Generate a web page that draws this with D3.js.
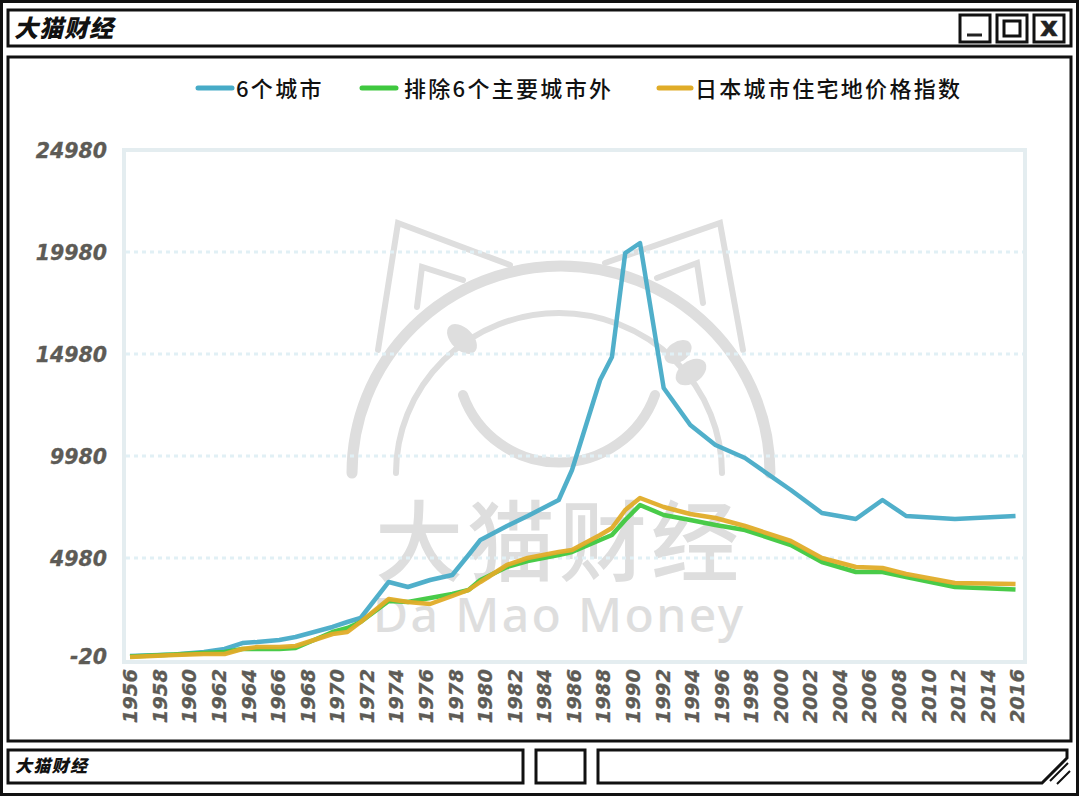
<!DOCTYPE html>
<html>
<head>
<meta charset="utf-8">
<script src="https://cdn.jsdelivr.net/npm/d3@7"></script>
<style>
html, body { margin: 0; padding: 0; background: #fff; }
svg { display: block; }
</style>
</head>
<body>
<script>
const w = 1080;
const h = 797;

// values
const years = [1956, 1959, 1961, 1962.4, 1963.6, 1964.6, 1966.1, 1967.2, 1969.7, 1970.7, 1971.6, 1973.5, 1974.8, 1976.3, 1977.8, 1978.9, 1979.7, 1981.5, 1982.9, 1985, 1985.9, 1987.8, 1988.6, 1989.5, 1990.5, 1992.1, 1993.9, 1995.6, 1997.6, 2000.7, 2002.8, 2005.1, 2006.9, 2008.5, 2011.8, 2015.9];
const sixCities = [176, 250, 372, 519, 813, 862, 960, 1107, 1598, 1843, 2039, 3804, 3558, 3902, 4147, 5127, 5862, 6549, 7039, 7823, 9294, 13706, 14833, 19931, 20421, 13313, 11500, 10519, 9882, 8313, 7186, 6892, 7823, 7039, 6892, 7039];
const otherCities = [152, 250, 323, 372, 519, 519, 519, 568, 1353, 1549, 1843, 2872, 2823, 3019, 3215, 3411, 3902, 4539, 4833, 5127, 5274, 5862, 6108, 6843, 7578, 7088, 6843, 6598, 6353, 5617, 4784, 4294, 4294, 4049, 3558, 3430];
const allIndex = [127, 225, 274, 274, 519, 617, 617, 666, 1255, 1353, 1843, 2970, 2823, 2725, 3117, 3411, 3804, 4637, 4980, 5274, 5372, 6108, 6451, 7333, 7921, 7480, 7137, 6941, 6549, 5813, 4980, 4539, 4490, 4196, 3755, 3706];
const seriesNames = ["6个城市", "排除6个主要城市外", "日本城市住宅地价格指数"];
const seriesColors = ["#47abc7", "#3fc83f", "#e0ac28"];
const yTicks = [-20, 4980, 9980, 14980, 19980, 24980];
const xTicks = d3.range(1956, 2017, 2);

const svg = d3.select("body").append("svg").attr("width", w).attr("height", h);
svg.append("rect").attr("width", w).attr("height", h).attr("fill", "#fff");

// window frame
function box(x, y, bw, bh, sw) {
	svg.append("rect").attr("x", x).attr("y", y).attr("width", bw).attr("height", bh)
		.attr("fill", "none").attr("stroke", "#111").attr("stroke-width", sw);
}
box(1.5, 1.5, 1076, 793, 3);
box(8, 10, 1063, 36, 3);
box(8, 57, 1063, 684, 3);
box(8, 750, 515, 33, 3);
box(536, 750, 49, 33, 3);
box(960, 15, 30, 27, 3);
box(997, 15, 30, 27, 3);
box(1034, 15, 30, 27, 3);
svg.append("path").attr("d", "M598 750H1067V758L1042 783H598Z").attr("fill", "none").attr("stroke", "#111").attr("stroke-width", 3);
svg.append("path").attr("d", "M1050 781L1068 763M1057 784L1070 771").attr("fill", "none").attr("stroke", "#111").attr("stroke-width", 2);
svg.append("path").attr("d", "M967 35H982").attr("stroke", "#222").attr("stroke-width", 3);
box(1004, 21, 16, 15, 3);
svg.append("text").attr("x", 1049).attr("y", 36).attr("text-anchor", "middle")
	.attr("font-family", "DejaVu Sans").attr("font-weight", "bold").attr("font-size", 27).attr("stroke", "#222").attr("stroke-width", 0.6).attr("fill", "#222").text("x");

svg.append("text").attr("x", 14).attr("y", 37)
	.attr("font-family", "Noto Sans CJK SC").attr("font-weight", "900").attr("font-style", "italic")
	.attr("font-size", 24).attr("letter-spacing", 1).attr("fill", "#111").text("大猫财经");
svg.append("text").attr("x", 15).attr("y", 772)
	.attr("font-family", "Noto Sans CJK SC").attr("font-weight", "900").attr("font-style", "italic")
	.attr("font-size", 17).attr("letter-spacing", 1.3).attr("fill", "#111").text("大猫财经");

// watermark
const wm = svg.append("g").attr("fill", "none").attr("stroke", "#dedede").attr("stroke-linecap", "round").attr("stroke-linejoin", "miter");
wm.append("path").attr("d", "M352 473A209 207 0 0 1 770 473").attr("stroke-width", 11);
wm.append("path").attr("d", "M396 473A163 160 0 0 1 722 473").attr("stroke-width", 6);
wm.append("path").attr("d", "M463 395A102 102 0 0 0 655 395").attr("stroke-width", 10);
wm.append("path").attr("d", "M378 350L398 223L510 265M605 263L720 223L743 350").attr("stroke-width", 6);
wm.append("path").attr("d", "M417 307L422 267L463 280M657 278L697 263L703 303").attr("stroke-width", 6);
[[462, 339, 18, 11, 45], [678, 352, 15, 10, -35], [691, 372, 17, 11, -35]].forEach((e) => {
	wm.append("ellipse").attr("rx", e[2]).attr("ry", e[3]).attr("fill", "#dedede").attr("stroke", "none")
		.attr("transform", "translate(" + e[0] + "," + e[1] + ") rotate(" + e[4] + ")");
});
svg.append("text").attr("x", 375).attr("y", 574).attr("font-family", "Noto Sans CJK SC").attr("font-weight", 500).attr("font-size", 88)
	.attr("letter-spacing", 4).attr("fill", "#dedede").text("大猫财经");
svg.append("text").attr("x", 373).attr("y", 632).attr("font-family", "Noto Sans").attr("font-weight", 500).attr("font-size", 48)
	.attr("textLength", 370).attr("fill", "#dedede").text("Da Mao Money");

// chart
const xScale = d3.scaleLinear().domain([1956, 2016]).range([130, 1017]);
const yScale = d3.scaleLinear().domain([-20, 24980]).range([660, 150]);

svg.append("rect").attr("x", 124).attr("y", 150).attr("width", 901).attr("height", 512)
	.attr("fill", "none").attr("stroke", "#e4edf0").attr("stroke-width", 4);

const grid = svg.append("g");
yTicks.slice(1, 5).forEach((t) => {
	grid.append("line").attr("x1", 126).attr("x2", 1023).attr("y1", yScale(t)).attr("y2", yScale(t))
		.attr("stroke", "#e1f0f5").attr("stroke-width", 3).attr("stroke-dasharray", "4 4");
});

const yAxis = d3.axisLeft(yScale).tickValues(yTicks).tickFormat((d) => d).tickSize(0).tickPadding(15);
const xAxis = d3.axisBottom(xScale).tickValues(xTicks).tickFormat((d) => d).tickSize(0);

const yG = svg.append("g").attr("transform", "translate(122,1)").call(yAxis);
const xG = svg.append("g").attr("transform", "translate(0,662)").call(xAxis);
yG.select(".domain").remove();
xG.select(".domain").remove();
svg.selectAll(".tick text").attr("font-family", "DejaVu Sans").attr("font-weight", "bold").attr("font-style", "italic")
	.attr("fill", "#5d5b56").attr("stroke", "#5d5b56").attr("stroke-width", 0.3);
yG.selectAll("text").attr("font-size", 20.5).attr("dy", (d) => d == -20 ? "0.12em" : "0.32em");
xG.selectAll("text").attr("font-size", 19.5)
	.attr("text-anchor", "end").attr("dy", "0.35em").attr("x", 0).attr("y", 0)
	.attr("transform", "translate(0,7) rotate(-90)");

const line = d3.line().x((d) => xScale(d[0])).y((d) => yScale(d[1]));
[sixCities, otherCities, allIndex].forEach((vals, i) => {
	svg.append("path").datum(d3.zip(years, vals)).attr("d", line)
		.attr("fill", "none").attr("stroke", seriesColors[i]).attr("stroke-width", 4.5).attr("stroke-linejoin", "round").attr("opacity", 0.95);
});

// legend
const legendX = [198, 362, 659];
const legendW = [34, 34, 32];
seriesNames.forEach((n, i) => {
	svg.append("line").attr("x1", legendX[i]).attr("x2", legendX[i] + legendW[i]).attr("y1", 88).attr("y2", 88)
		.attr("stroke", seriesColors[i]).attr("stroke-width", 5).attr("stroke-linecap", "round");
	svg.append("text").attr("x", legendX[i] + legendW[i] + (i == 1 ? 8 : 4)).attr("y", 97)
		.attr("font-family", "Noto Sans CJK SC").attr("font-weight", 500).attr("font-size", 22).attr("letter-spacing", 2.3).attr("fill", "#111").text(n);
});
</script>
</body>
</html>
